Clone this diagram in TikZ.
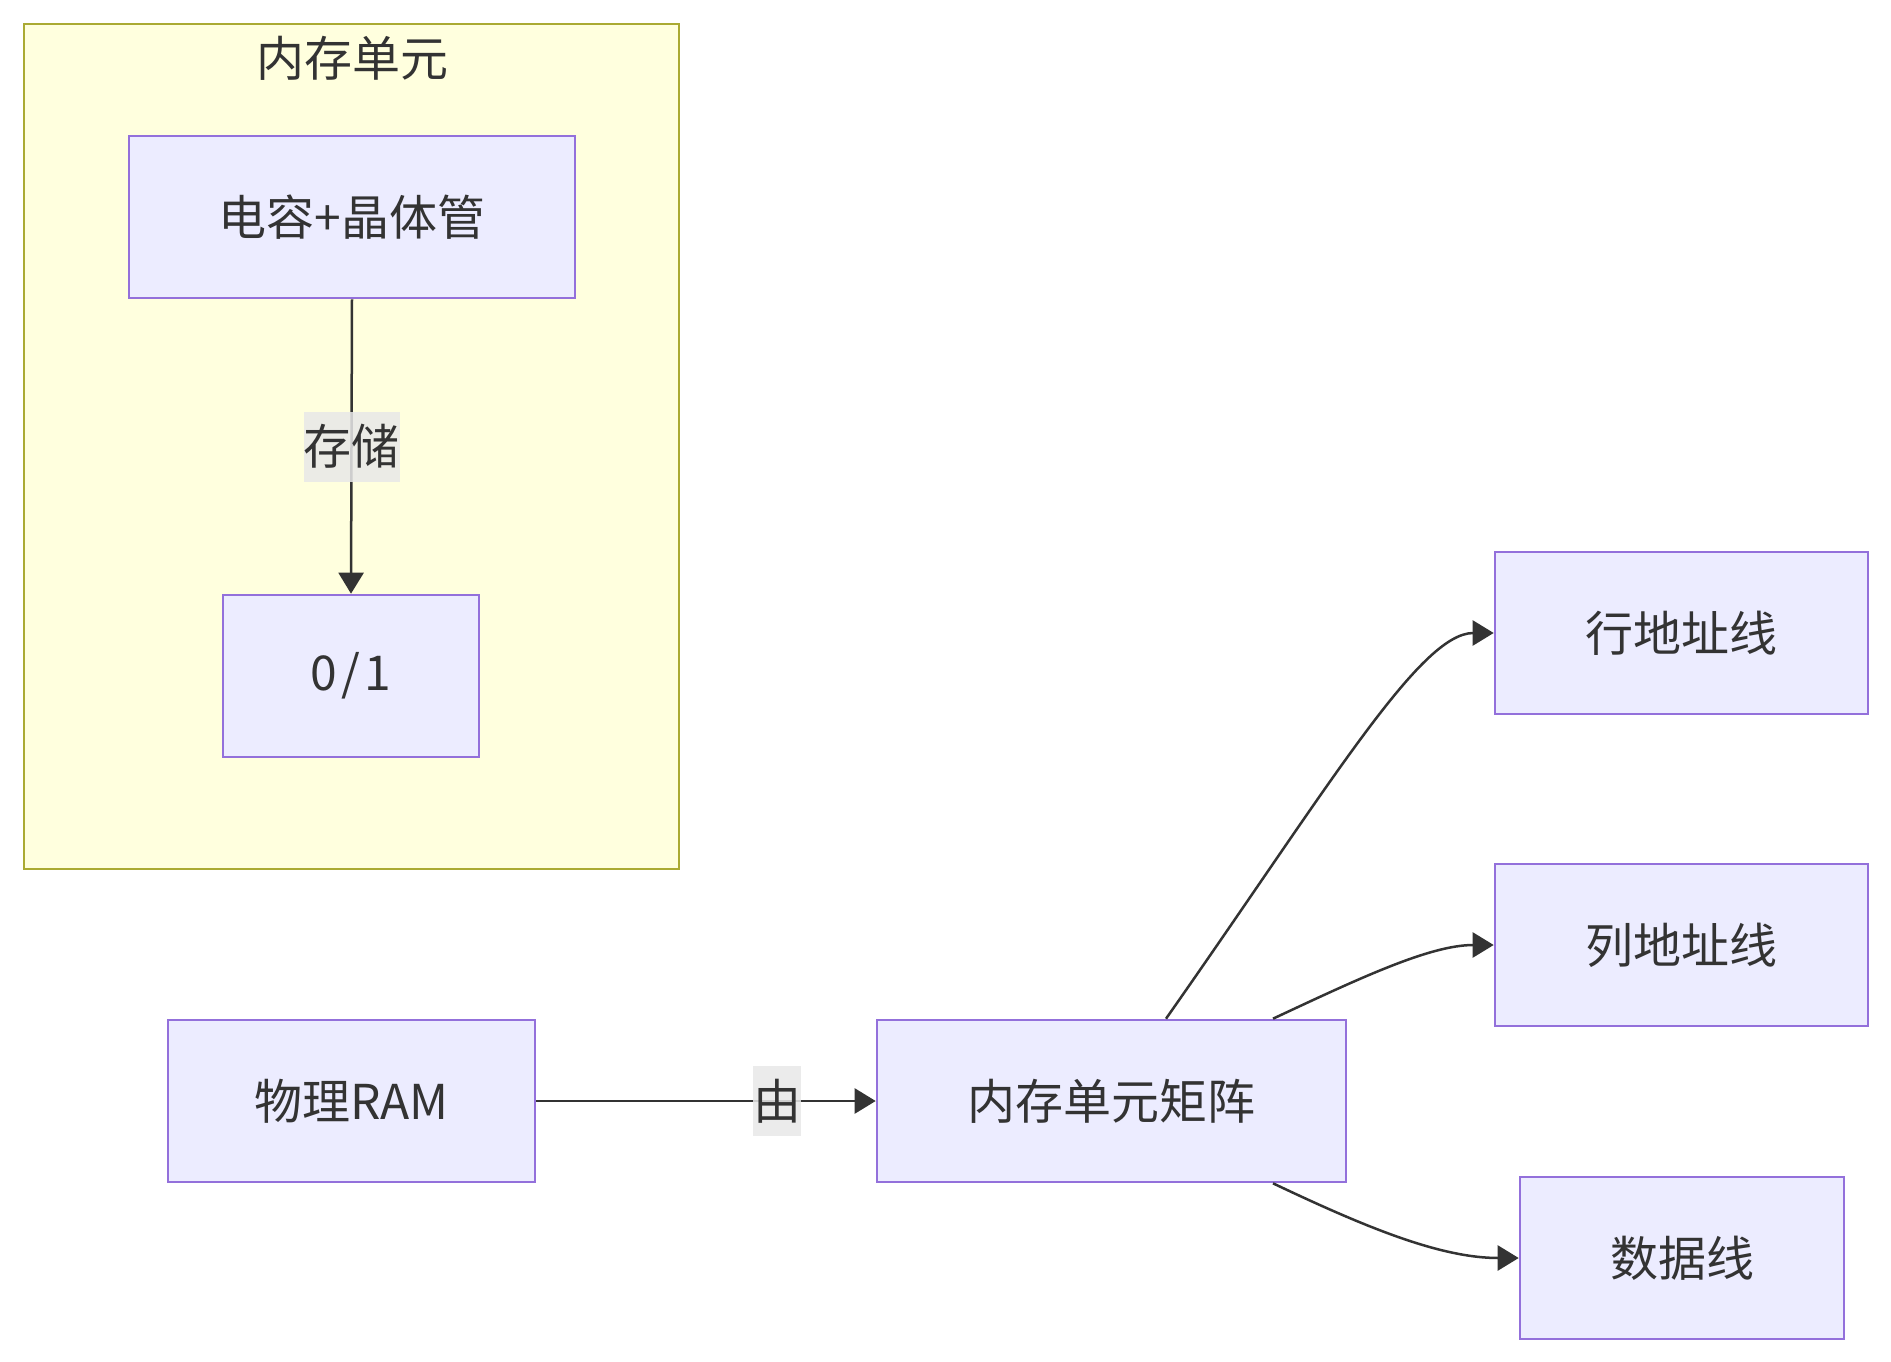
\documentclass[tikz,border=0pt]{standalone}
\usepackage{fontspec}
\setmainfont{Noto Sans CJK SC}
\usetikzlibrary{arrows.meta}
\definecolor{nodefill}{HTML}{ECECFF}
\definecolor{nodeline}{HTML}{9370DB}
\definecolor{clusterfill}{HTML}{FFFFDE}
\definecolor{clusterline}{HTML}{AAAA33}
\definecolor{edgecol}{HTML}{333333}
\definecolor{txt}{HTML}{333333}
\definecolor{lblbg}{HTML}{E8E8E8}
\tikzset{
  box/.style={draw=nodeline, fill=nodefill, line width=2.6pt, minimum height=162pt, inner sep=0pt, text=txt, anchor=center},
  cluster/.style={draw=clusterline, fill=clusterfill, line width=2.6pt},
  edge/.style={draw=edgecol, line width=2.5pt, -{Triangle[length=21pt,width=25pt]}},
  lbl/.style={fill=lblbg, fill opacity=0.85, text opacity=1, text=txt, inner xsep=0pt, inner ysep=0pt, minimum height=70pt},
  ttl/.style={text=txt, inner sep=0pt}
}
\begin{document}
\begin{tikzpicture}[x=1pt,y=-1pt,font=\fontsize{48}{58}\selectfont]
\useasboundingbox (0,0) rectangle (1891,1362);
\fill[white] (0,0) rectangle (1891,1362);
% cluster
\draw[cluster] (24,24) rectangle (679,869);
\node[ttl] (title) at (352,58) {内存单元};
% nodes
\node[box, minimum width=446pt] (A) at (352,217) {电容+晶体管};
\node[box, minimum width=256pt] (B) at (351,676) {0\kern4pt/\kern4pt1};
\node[box, minimum width=367pt] (C) at (351.5,1101) {物理RAM};
\node[box, minimum width=469pt] (D) at (1111.5,1101) {内存单元矩阵};
\node[box, minimum width=373pt] (E) at (1681.5,633) {行地址线};
\node[box, minimum width=373pt] (F) at (1681.5,945) {列地址线};
\node[box, minimum width=324pt] (G) at (1682,1258) {数据线};
% edges
\draw[edge] (A.south) -- node[lbl] (l1) {存储} (B.north);
\draw[edge] (C.east) -- node[lbl, pos=0.71] (l2) {由} (D.west);
\draw[edge] ([xshift=54.5pt]D.north) .. controls (1330,785) and (1420,633) .. (E.west);
\draw[edge] ([xshift=161.5pt]D.north) .. controls (1360,978) and (1430,945) .. (F.west);
\draw[edge] ([xshift=161.5pt]D.south) .. controls (1365,1227) and (1440,1258) .. (G.west);
\end{tikzpicture}
\end{document}
